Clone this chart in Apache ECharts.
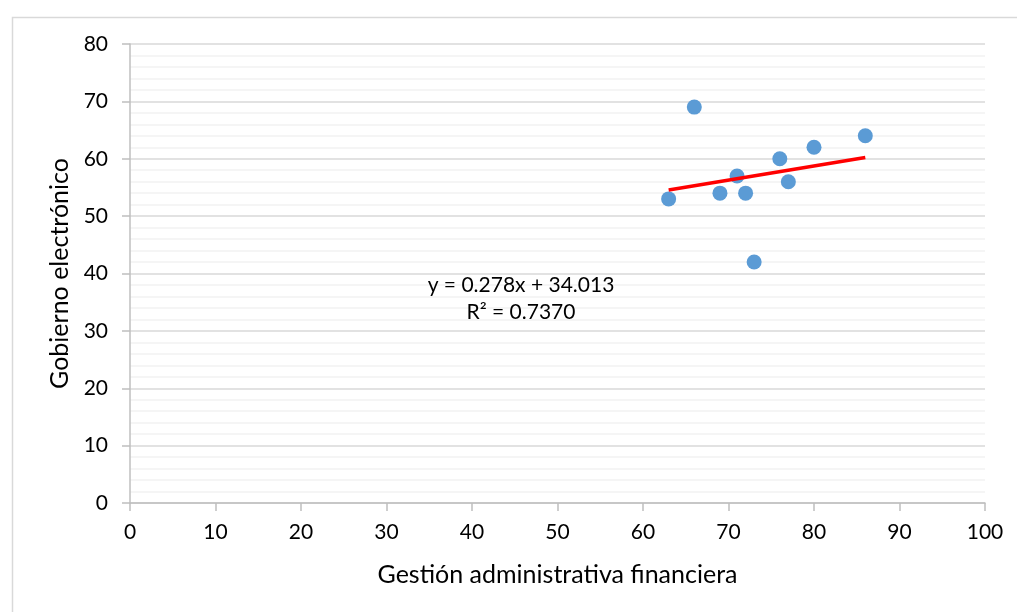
<!DOCTYPE html>
<html>
<head>
<meta charset="utf-8">
<script src="https://cdn.jsdelivr.net/npm/echarts@6/dist/echarts.min.js"></script>
<style>html,body{margin:0;padding:0;background:#fff;}#c{width:1017px;height:612px;}</style>
</head>
<body>
<div id="c"></div>
<script>
const xValues = [63, 66, 69, 71, 72, 73, 76, 77, 80, 86];
const yValues = [53, 69, 54, 57, 54, 42, 60, 56, 62, 64];
const xTitle = 'Gestión administrativa financiera';
const yTitle = 'Gobierno electrónico';
const equationText = 'y = 0.278x + 34.013';
const r2Text = 'R² = 0.7370';

const points = xValues.map((x, i) => [x, yValues[i]]);
// least-squares trendline derived from the points
const n = xValues.length;
const mx = xValues.reduce((a, b) => a + b, 0) / n;
const my = yValues.reduce((a, b) => a + b, 0) / n;
let sxy = 0, sxx = 0;
for (let i = 0; i < n; i++) { sxy += (xValues[i] - mx) * (yValues[i] - my); sxx += (xValues[i] - mx) ** 2; }
const slope = sxy / sxx, intercept = my - slope * mx;
const xMin = Math.min(...xValues), xMax = Math.max(...xValues);
const trend = [[xMin, intercept + slope * xMin], [xMax, intercept + slope * xMax]];

const FONT = 'Lato';
const chart = echarts.init(document.getElementById('c'));
chart.setOption({
  animation: false,
  backgroundColor: '#fff',
  textStyle: { fontFamily: FONT },
  grid: { left: 130, right: 32, top: 44, bottom: 109, containLabel: false },
  xAxis: {
    type: 'value', min: 0, max: 100, interval: 10,
    name: xTitle, nameLocation: 'middle', nameGap: 59,
    nameTextStyle: { fontFamily: FONT, fontSize: 25, color: '#000' },
    axisLine: { show: true, lineStyle: { color: '#bfbfbf', width: 1.5 } },
    axisTick: { show: true, inside: false, length: 8, lineStyle: { color: '#bfbfbf', width: 1.5 } },
    axisLabel: { fontFamily: FONT, fontSize: 21, color: '#000', margin: 19 },
    splitLine: { show: false }
  },
  yAxis: {
    type: 'value', min: 0, max: 80, interval: 10,
    name: yTitle, nameLocation: 'middle', nameGap: 55,
    nameTextStyle: { fontFamily: FONT, fontSize: 25, color: '#000' },
    axisLine: { show: true, lineStyle: { color: '#bfbfbf', width: 1.5 } },
    axisTick: { show: true, inside: false, length: 8, lineStyle: { color: '#bfbfbf', width: 1.5 } },
    axisLabel: { fontFamily: FONT, fontSize: 21, color: '#000', margin: 22 },
    splitLine: { show: true, lineStyle: { color: '#d9d9d9', width: 1.5 } },
    minorTick: { show: false, splitNumber: 5 },
    minorSplitLine: { show: true, lineStyle: { color: '#f2f2f2', width: 1.5 } }
  },
  graphic: [
    { type: 'rect', left: 10, top: 15, shape: { width: 1030, height: 640 }, style: { fill: 'none', stroke: '#d9d9d9', lineWidth: 1.5 }, silent: true, z: -10 },
    { type: 'text', x: 521, y: 285, style: { text: equationText, font: '21px ' + FONT, fill: '#000', align: 'center', verticalAlign: 'middle' }, z: 10 },
    { type: 'text', x: 521, y: 312, style: { text: r2Text, font: '21px ' + FONT, fill: '#000', align: 'center', verticalAlign: 'middle' }, z: 10 }
  ],
  series: [
    { type: 'line', data: trend, symbol: 'none', lineStyle: { color: '#ff0000', width: 3.5 }, z: 3 },
    { type: 'scatter', data: points, symbol: 'circle', symbolSize: 15, itemStyle: { color: '#5b9bd5', opacity: 1 }, z: 2 }
  ]
});
</script>
</body>
</html>
